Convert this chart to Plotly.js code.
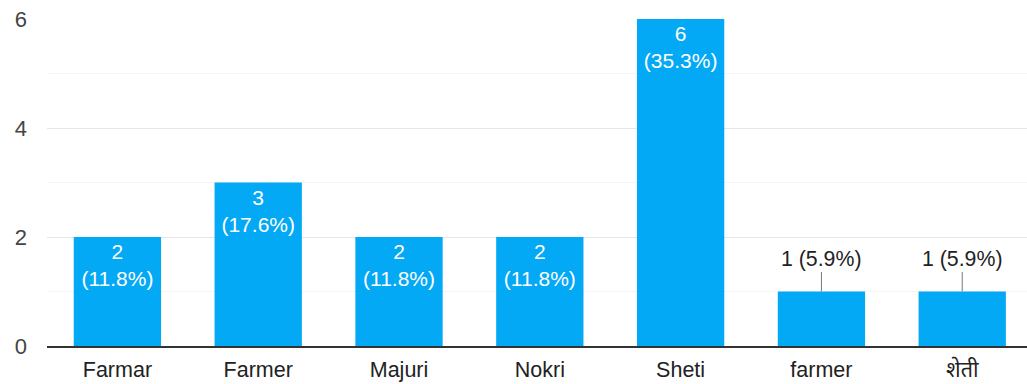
<!DOCTYPE html>
<html>
<head>
<meta charset="utf-8">
<script src="https://cdn.plot.ly/plotly-3.0.1.min.js"></script>
<style>html,body{margin:0;padding:0;background:#fff;}#chart{width:1027px;height:384px;}</style>
</head>
<body>
<div id="chart"></div>
<script>
const categories = ['Farmar', 'Farmer', 'Majuri', 'Nokri', 'Sheti', 'farmer', 'शेती'];
const counts = [2, 3, 2, 2, 6, 1, 1];
const percents = ['11.8%', '17.6%', '11.8%', '11.8%', '35.3%', '5.9%', '5.9%'];
const yTicks = [0, 2, 4, 6];

const FONT = 'Arial, "Liberation Sans", "Noto Sans", sans-serif';
const insideText = counts.map((c, i) => c >= 2 ? c + '<br>(' + percents[i] + ')' : '');

const annotations = [];
counts.forEach((c, i) => {
  if (c < 2) {
    annotations.push({
      x: categories[i], y: c, xref: 'x', yref: 'y',
      text: c + ' (' + percents[i] + ')',
      showarrow: true, arrowhead: 0, arrowwidth: 1, arrowcolor: '#777',
      ax: 0, ay: -33, standoff: 0,
      font: {family: FONT, size: 21.3, color: '#222'}
    });
  }
});

const trace = {
  type: 'bar',
  x: categories,
  y: counts,
  text: insideText,
  textposition: 'inside',
  insidetextanchor: 'end',
  textfont: {family: FONT, size: 21, color: '#ffffff'},
  marker: {color: '#03a9f4'},
  width: 0.62,
  hoverinfo: 'none',
  cliponaxis: false
};

const layout = {
  width: 1027, height: 384,
  margin: {l: 47, r: 0, t: 19, b: 38},
  paper_bgcolor: '#ffffff', plot_bgcolor: '#ffffff',
  showlegend: false,
  font: {family: FONT},
  xaxis: {
    type: 'category',
    range: [-0.5, 6.46],
    showgrid: false, zeroline: false,
    showline: true, linecolor: '#333', linewidth: 2,
    ticks: '',
    ticklabelstandoff: 3,
    tickfont: {family: FONT, size: 21.5, color: '#222'},
    fixedrange: true
  },
  yaxis: {
    range: [0, 6],
    tickvals: yTicks,
    ticktext: yTicks.map(String),
    showgrid: true, gridcolor: '#e6e6e6', gridwidth: 1,
    minor: {dtick: 1, showgrid: true, gridcolor: '#f4f4f4', gridwidth: 1},
    zeroline: false, showline: false,
    ticks: '',
    ticklabelstandoff: 19,
    tickfont: {family: FONT, size: 22, color: '#444'},
    fixedrange: true
  },
  annotations: annotations,
  uniformtext: {mode: false}
};

Plotly.newPlot('chart', [trace], layout, {displayModeBar: false, staticPlot: true});
</script>
</body>
</html>
